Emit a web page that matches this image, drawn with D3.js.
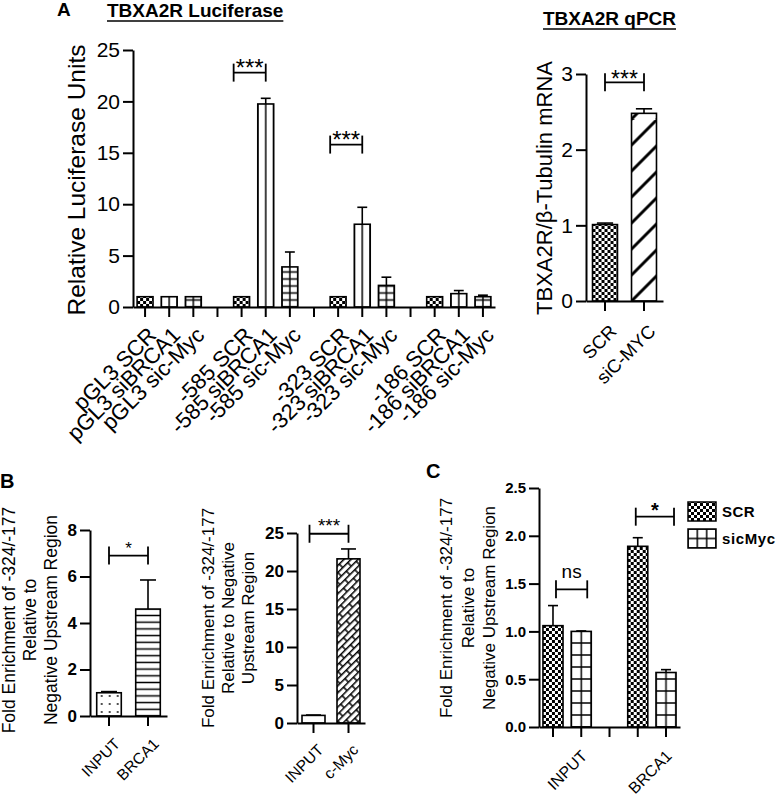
<!DOCTYPE html>
<html><head><meta charset="utf-8">
<script src="https://cdn.jsdelivr.net/npm/d3@7"></script>
<style>
body{margin:0;background:#fff}
svg{display:block}
text{font-family:"Liberation Sans",Arial,Helvetica,sans-serif;fill:#000}
</style>
</head><body>
<svg id="chart" width="776" height="796"></svg>
<script>
// ---------------- DATA ----------------
// Panel A: TBXA2R Luciferase
const lucLabels = ["pGL3 SCR","pGL3 siBRCA1","pGL3 sic-Myc","-585 SCR","-585 siBRCA1","-585 sic-Myc","-323 SCR","-323 siBRCA1","-323 sic-Myc","-186 SCR","-186 siBRCA1","-186 sic-Myc"];
const lucValues = [1.0,1.0,1.0,1.0,19.75,3.9,1.0,8.05,2.1,1.0,1.3,1.0];
const lucErrors = [0,0,0,0,0.55,1.45,0,1.65,0.8,0,0.3,0.15];
const lucTicks = [0,5,10,15,20,25];
const lucSig = [["-585 SCR","-585 siBRCA1",22.8,"***"],["-323 SCR","-323 siBRCA1",15.8,"***"]];

// Panel A: TBXA2R qPCR
const qpcrLabels = ["SCR","siC-MYC"];
const qpcrValues = [1.01,2.48];
const qpcrErrors = [0.02,0.06];
const qpcrTicks = [0,1,2,3];
const qpcrSig = [["SCR","siC-MYC",2.89,"***"]];

// Panel B (left): BRCA1 ChIP
const b1Labels = ["INPUT","BRCA1"];
const b1Values = [1.0,4.6];
const b1Errors = [0.05,1.25];
const b1Ticks = [0,2,4,6,8];
const b1Sig = [["INPUT","BRCA1",6.9,"*"]];

// Panel B (right): c-Myc ChIP
const b2Labels = ["INPUT","c-Myc"];
const b2Values = [1.0,21.6];
const b2Errors = [0.05,1.3];
const b2Ticks = [0,5,10,15,20,25];
const b2Sig = [["INPUT","c-Myc",24.9,"***"]];

// Panel C
const cGroups = ["INPUT","BRCA1"];
const cSeries = ["SCR","sicMyc"];
const cValuesSCR = [1.06,1.89];
const cErrorsSCR = [0.21,0.09];
const cValuesSicMyc = [1.0,0.57];
const cErrorsSicMyc = [0.005,0.03];
const cTicks = [0,0.5,1.0,1.5,2.0,2.5];
const cSig = [["INPUT",1.44,"ns"],["BRCA1",2.2,"*"]];

// ---------------- DRAWING ----------------
const svg = d3.select("#chart");
const defs = svg.append("defs");
let pid = 0;

function makePattern(type, x0, y0, w) {
  if (type === "white") return "#fff";
  const id = "pat" + (pid++);
  const p = defs.append("pattern").attr("id", id).attr("patternUnits", "userSpaceOnUse");
  const line = (x1,y1,x2,y2,sw) => p.append("line").attr("x1",x1).attr("y1",y1).attr("x2",x2).attr("y2",y2).attr("stroke","#000").attr("stroke-width",sw);
  if (type === "checker") {
    p.attr("x", x0).attr("y", y0).attr("width", 6).attr("height", 6);
    p.append("rect").attr("width",6).attr("height",6).attr("fill","#fff");
    p.append("rect").attr("width",3).attr("height",3).attr("fill","#000");
    p.append("rect").attr("x",3).attr("y",3).attr("width",3).attr("height",3).attr("fill","#000");
  } else if (type === "vlines") {
    const tw = w/2;
    p.attr("x", x0 - tw/2).attr("y", 0).attr("width", tw).attr("height", 10);
    p.append("rect").attr("width",tw).attr("height",10).attr("fill","#fff");
    line(tw/2,0,tw/2,10,1.5);
  } else if (type.startsWith("grid")) {
    const cols = type === "grid3" ? 3 : 2;
    const hs = type === "gridC" ? 12 : (type === "grid3" ? 9.5 : 7);
    const tw = w/cols;
    p.attr("x", x0 - tw/2).attr("y", y0 - hs/2).attr("width", tw).attr("height", hs);
    p.append("rect").attr("width",tw).attr("height",hs).attr("fill","#fff");
    line(tw/2,0,tw/2,hs,1.5);
    line(0,hs/2,tw,hs/2,1.5);
  } else if (type === "hlines") {
    const hs = 6.7;
    p.attr("x", 0).attr("y", y0 - hs/2).attr("width", 10).attr("height", hs);
    p.append("rect").attr("width",10).attr("height",hs).attr("fill","#fff");
    line(0,hs/2,10,hs/2,1.5);
  } else if (type === "dots") {
    p.attr("x", x0 + 1).attr("y", y0).attr("width", 8).attr("height", 8);
    p.append("rect").attr("width",8).attr("height",8).attr("fill","#fff");
    p.append("circle").attr("cx",4).attr("cy",4).attr("r",0.9).attr("fill","#000");
  } else if (type === "diag") {
    const s = 26;
    p.attr("x", x0).attr("y", y0).attr("width", s).attr("height", s);
    p.append("rect").attr("width",s).attr("height",s).attr("fill","#fff");
    p.append("path").attr("d",`M0,${s} L${s},0 M${-s/2},${s/2} L${s/2},${-s/2} M${s/2},${1.5*s} L${1.5*s},${s/2}`)
      .attr("stroke","#000").attr("stroke-width",3);
  } else if (type === "brick") {
    p.attr("x", x0).attr("y", y0).attr("width", 14).attr("height", 10).attr("patternTransform","rotate(-45)");
    p.append("rect").attr("width",14).attr("height",10).attr("fill","#fff");
    line(0,0.75,14,0.75,1.5);
    line(0,5.75,14,5.75,1.5);
    line(1,0.75,1,5.75,1.5);
    line(8,5.75,8,10.75,1.5);
  }
  return `url(#${id})`;
}

function styleAxis(sel, fs, bold) {
  sel.selectAll("path,line").attr("stroke","#000").attr("stroke-width",2);
  sel.selectAll("text").style("font-size", fs+"px").style("font-weight", bold ? "bold" : "normal").attr("fill","#000");
}

function drawBars(g, items, x, y, capFrac) {
  const bw = x.bandwidth();
  items.forEach(d => {
    const bx = x(d.key), y0 = y(0), yt = y(d.value);
    const fill = makePattern(d.pattern, bx, y0, bw);
    g.append("rect").attr("x", bx).attr("y", yt).attr("width", bw).attr("height", y0 - yt)
      .attr("fill", fill).attr("stroke","#000").attr("stroke-width",1.6);
    if (d.err > 0) {
      const cx = bx + bw/2, ye = y(d.value + d.err), cw = bw*capFrac;
      g.append("line").attr("x1",cx).attr("x2",cx).attr("y1",yt).attr("y2",ye).attr("stroke","#000").attr("stroke-width",1.6);
      g.append("line").attr("x1",cx-cw/2).attr("x2",cx+cw/2).attr("y1",ye).attr("y2",ye).attr("stroke","#000").attr("stroke-width",1.6);
    }
  });
}

function bracket(g, x1, x2, yy, text, fs, dy, bold) {
  g.append("line").attr("x1",x1).attr("x2",x2).attr("y1",yy).attr("y2",yy).attr("stroke","#000").attr("stroke-width",1.8);
  g.append("line").attr("x1",x1).attr("x2",x1).attr("y1",yy-9).attr("y2",yy+9).attr("stroke","#000").attr("stroke-width",1.8);
  g.append("line").attr("x1",x2).attr("x2",x2).attr("y1",yy-9).attr("y2",yy+9).attr("stroke","#000").attr("stroke-width",1.8);
  g.append("text").attr("x",(x1+x2)/2).attr("y",yy+dy).attr("text-anchor","middle")
    .style("font-size",fs+"px").style("font-weight", bold ? "bold" : "normal").text(text);
}

function rotLabel(g, ax, ay, text, fs) {
  g.append("text").attr("transform",`translate(${ax},${ay}) rotate(-45)`).attr("text-anchor","end")
    .attr("dy","0.35em").style("font-size",fs+"px").text(text);
}

function yTitle(g, cx, cy, lines, fs, spacing) {
  lines.forEach((t,i) => {
    g.append("text").attr("transform",`translate(${cx + i*spacing},${cy}) rotate(-90)`)
      .attr("text-anchor","middle").style("font-size",fs+"px").text(t);
  });
}

function titleU(x, y, text, fs) {
  const t = svg.append("text").attr("x",x).attr("y",y)
    .style("font-size",fs+"px").style("font-weight","bold").text(text);
  const len = t.node().getComputedTextLength();
  svg.append("line").attr("x1",x).attr("x2",x+len).attr("y1",y+4).attr("y2",y+4).attr("stroke","#000").attr("stroke-width",1.6);
}

// ---- Panel A: Luciferase ----
{
  const g = svg.append("g");
  const slots = [];
  lucLabels.forEach((l,i) => { if (i>0 && i%3===0) slots.push("gap"+i); slots.push(l); });
  const x = d3.scaleBand().domain(slots).range([133,495]).paddingInner(0.34).paddingOuter(0.17);
  const y = d3.scaleLinear().domain([0,25]).range([307,50]);
  const patFor = l => l.endsWith("SCR") ? "checker" : (l.endsWith("siBRCA1") ? "vlines" : "grid");
  drawBars(g, lucLabels.map((l,i)=>({key:l,value:lucValues[i],err:lucErrors[i],pattern:patFor(l)})), x, y, 0.62);
  g.append("g").attr("transform","translate(133,0)")
    .call(d3.axisLeft(y).tickValues(lucTicks).tickSize(10).tickSizeOuter(0).tickPadding(3).tickFormat(d3.format("d")))
    .call(s=>styleAxis(s,21,false));
  g.append("g").attr("transform","translate(0,307)")
    .call(d3.axisBottom(x).tickSize(10).tickSizeOuter(0).tickFormat(""))
    .call(s=>styleAxis(s,20,false));
  lucLabels.forEach(l => rotLabel(g, x(l)+x.bandwidth()/2+7, 331, l, 22));
  lucSig.forEach(s => bracket(g, x(s[0]), x(s[1])+x.bandwidth()/2, y(s[2]), s[3], 24, 3, false));
  yTitle(g, 85, 180, ["Relative Luciferase Units"], 24.5, 0);
  svg.append("text").attr("x",57).attr("y",16).style("font-size","19px").style("font-weight","bold").text("A");
  titleU(107, 17, "TBXA2R Luciferase", 19);
}

// ---- Panel A: qPCR ----
{
  const g = svg.append("g");
  const x = d3.scaleBand().domain(qpcrLabels).range([586,663]).paddingInner(0.36).paddingOuter(0.167);
  const y = d3.scaleLinear().domain([0,3]).range([301,74]);
  const pats = {"SCR":"checker","siC-MYC":"diag"};
  drawBars(g, qpcrLabels.map((l,i)=>({key:l,value:qpcrValues[i],err:qpcrErrors[i],pattern:pats[l]})), x, y, 0.65);
  g.append("g").attr("transform","translate(586,0)")
    .call(d3.axisLeft(y).tickValues(qpcrTicks).tickSize(10).tickSizeOuter(0).tickPadding(3).tickFormat(d3.format("d")))
    .call(s=>styleAxis(s,21,false));
  g.append("g").attr("transform","translate(0,301)")
    .call(d3.axisBottom(x).tickSize(10).tickSizeOuter(0).tickFormat(""))
    .call(s=>styleAxis(s,20,false));
  qpcrLabels.forEach(l => rotLabel(g, x(l)+x.bandwidth()/2+8, 328, l, 18.5));
  qpcrSig.forEach(s => bracket(g, x(s[0])+x.bandwidth()/2, x(s[1])+x.bandwidth()/2, y(s[2]), s[3], 23, 5, false));
  yTitle(g, 552, 188, ["TBXA2R/\u03B2-Tubulin mRNA"], 22, 0);
  titleU(543, 25, "TBXA2R qPCR", 19);
}

// ---- Panel B left ----
{
  const g = svg.append("g");
  const x = d3.scaleBand().domain(b1Labels).range([90,167]).paddingInner(0.37).paddingOuter(0.172);
  const y = d3.scaleLinear().domain([0,8]).range([716,530]);
  const pats = {"INPUT":"dots","BRCA1":"hlines"};
  drawBars(g, b1Labels.map((l,i)=>({key:l,value:b1Values[i],err:b1Errors[i],pattern:pats[l]})), x, y, 0.65);
  g.append("g").attr("transform","translate(90,0)")
    .call(d3.axisLeft(y).tickValues(b1Ticks).tickSize(10).tickSizeOuter(0).tickPadding(3).tickFormat(d3.format("d")))
    .call(s=>styleAxis(s,17,true));
  g.append("g").attr("transform","translate(0,716)")
    .call(d3.axisBottom(x).tickSize(10).tickSizeOuter(0).tickFormat(""))
    .call(s=>styleAxis(s,16,false));
  b1Labels.forEach(l => rotLabel(g, x(l)+x.bandwidth()/2+8, 741, l, 15.5));
  b1Sig.forEach(s => bracket(g, x(s[0])+x.bandwidth()/2, x(s[1])+x.bandwidth()/2, y(s[2]), s[3], 17, -2, false));
  yTitle(g, 15, 620, ["Fold Enrichment of -324/-177","Relative to","Negative Upstream Region"], 17.5, 21);
  svg.append("text").attr("x",0).attr("y",488).style("font-size","20px").style("font-weight","bold").text("B");
}

// ---- Panel B right ----
{
  const g = svg.append("g");
  const x = d3.scaleBand().domain(b2Labels).range([297,365]).paddingInner(0.343).paddingOuter(0.143);
  const y = d3.scaleLinear().domain([0,25]).range([723,533]);
  const pats = {"INPUT":"white","c-Myc":"brick"};
  drawBars(g, b2Labels.map((l,i)=>({key:l,value:b2Values[i],err:b2Errors[i],pattern:pats[l]})), x, y, 0.65);
  g.append("g").attr("transform","translate(297,0)")
    .call(d3.axisLeft(y).tickValues(b2Ticks).tickSize(10).tickSizeOuter(0).tickPadding(3).tickFormat(d3.format("d")))
    .call(s=>styleAxis(s,17,true));
  g.append("g").attr("transform","translate(0,723)")
    .call(d3.axisBottom(x).tickSize(10).tickSizeOuter(0).tickFormat(""))
    .call(s=>styleAxis(s,16,false));
  b2Labels.forEach(l => rotLabel(g, x(l)+x.bandwidth()/2+7, 747, l, 15.5));
  b2Sig.forEach(s => bracket(g, x(s[0])+x.bandwidth()/2-4, x(s[1])+x.bandwidth()/2, y(s[2]), s[3], 19, -2, false));
  yTitle(g, 214, 618, ["Fold Enrichment of -324/-177","Relative to Negative","Upstream Region"], 17, 20);
}

// ---- Panel C ----
{
  const g = svg.append("g");
  const slots = [];
  cGroups.forEach((gr,i) => { if (i>0) slots.push("gap"+i); cSeries.forEach(s => slots.push(gr+"|"+s)); });
  const x = d3.scaleBand().domain(slots).range([539,680]).paddingInner(0.29).paddingOuter(0.14);
  const y = d3.scaleLinear().domain([0,2.5]).range([727,488]);
  const items = [];
  cGroups.forEach((gr,i) => {
    items.push({key:gr+"|SCR", value:cValuesSCR[i], err:cErrorsSCR[i], pattern:"checker"});
    items.push({key:gr+"|sicMyc", value:cValuesSicMyc[i], err:cErrorsSicMyc[i], pattern:"gridC"});
  });
  drawBars(g, items, x, y, 0.5);
  g.append("g").attr("transform","translate(539,0)")
    .call(d3.axisLeft(y).tickValues(cTicks).tickSize(10).tickSizeOuter(0).tickPadding(3).tickFormat(d3.format(".1f")))
    .call(s=>styleAxis(s,15,true));
  g.append("g").attr("transform","translate(0,727)")
    .call(d3.axisBottom(x).tickSize(10).tickSizeOuter(0).tickFormat(""))
    .call(s=>styleAxis(s,16,false));
  const bw = x.bandwidth();
  cGroups.forEach(gr => {
    const cx = (x(gr+"|SCR") + x(gr+"|sicMyc") + bw)/2;
    rotLabel(g, cx+17, 753, gr, 16);
  });
  cSig.forEach(s => {
    const x1 = x(s[0]+"|SCR")+bw/2+3, x2 = x(s[0]+"|sicMyc")+bw/2+6;
    if (s[2] === "ns") bracket(g, x1, x2, y(s[1]), s[2], 19, -11, false);
    else bracket(g, x1-5, x2+2, y(s[1]), s[2], 20, 0, true);
  });
  yTitle(g, 452, 608, ["Fold Enrichment of -324/-177","Relative to","Negative Upstream Region"], 17, 21.5);
  svg.append("text").attr("x",426).attr("y",478).style("font-size","20px").style("font-weight","bold").text("C");
  // legend
  const lg = svg.append("g");
  cSeries.forEach((s,i) => {
    const ly = 502 + i*27;
    const fill = makePattern(s === "SCR" ? "checker" : "grid3", 688, ly+19, 28);
    lg.append("rect").attr("x",688).attr("y",ly).attr("width",28).attr("height",19)
      .attr("fill",fill).attr("stroke","#000").attr("stroke-width",1.5);
    lg.append("text").attr("x",722).attr("y",ly+15).style("font-size","15px").style("font-weight","bold")
      .style("letter-spacing", s === "SCR" ? "0.5px" : "0.6px").text(s);
  });
}
</script>
</body></html>
